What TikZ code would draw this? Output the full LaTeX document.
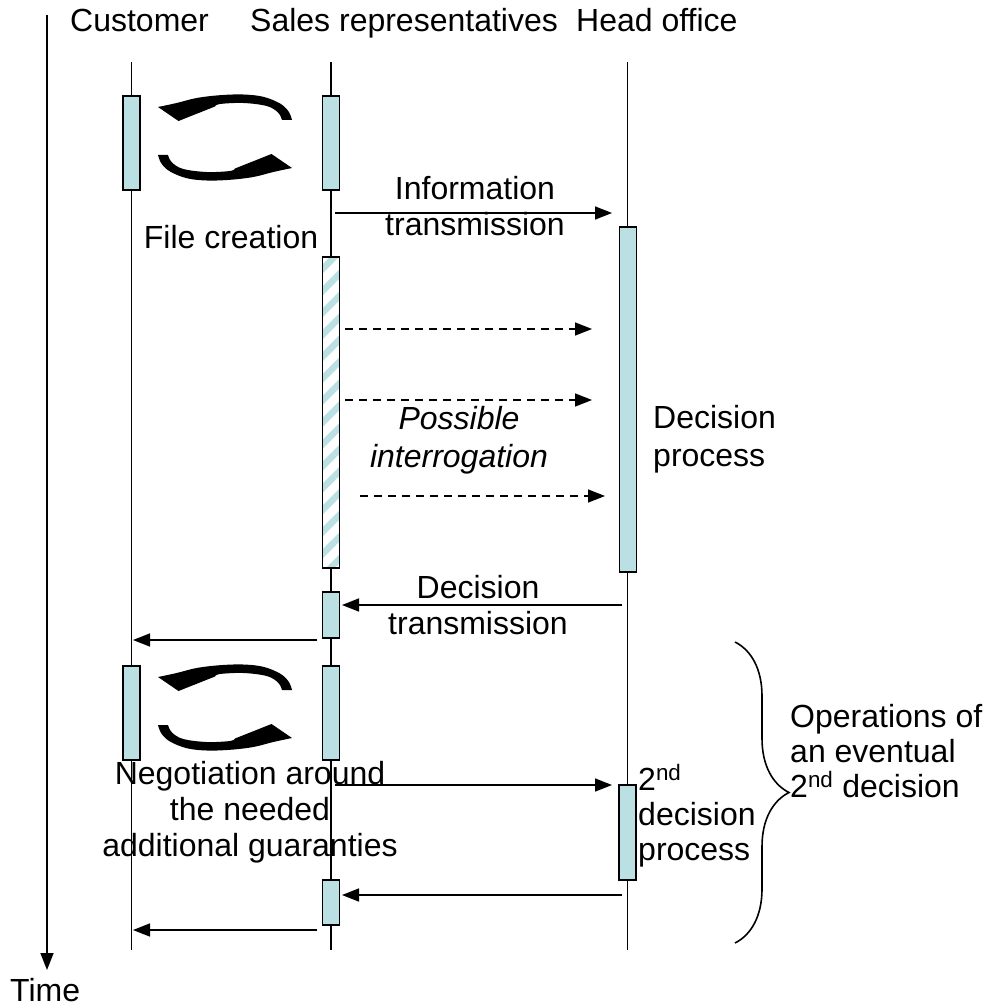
\documentclass[tikz,border=0pt]{standalone}
\usepackage{fontspec}
\setmainfont{Liberation Sans}
\usetikzlibrary{arrows.meta,patterns.meta,decorations.pathreplacing}
\definecolor{barcyan}{RGB}{187,224,227}
\newcommand\swaparc{plot[smooth,tension=0.6] coordinates {(-67,-30.5) (-48.3,-34.5)
    (-28.3,-39.5) (-5,-42.3) (18.3,-43) (38.3,-40.7) (55,-34) (63.6,-26) (67,-17.5)}
  -- plot[smooth,tension=0.6] coordinates {(57,-17.5) (53,-25) (41.7,-31.5)
    (18.3,-34.5) (-5,-33.5) (-10,-31)}
  -- (-46.5,-16.5) -- cycle}
\tikzset{
  lifeline/.style={line width=1.6pt},
  bar/.style={draw,line width=1.8pt,fill=barcyan,minimum width=17pt,inner sep=0pt},
  hatchbar/.style={draw,line width=1.8pt,minimum width=17pt,inner sep=0pt,
    preaction={fill=white},
    pattern={Lines[angle=45,distance=15.5pt,line width=6.5pt]},pattern color=barcyan},
  msg/.style={line width=1.6pt,-{Triangle[length=17pt,width=13pt]}},
  ask/.style={msg,dash pattern=on 8pt off 6pt},
  txt/.style={font=\fontsize{32}{36}\selectfont,align=center,inner sep=0pt},
  exchange/.pic={
    \fill \swaparc;
    \fill[rotate=180] \swaparc;
  }
}
\begin{document}
\begin{tikzpicture}[x=1pt,y=-1pt]
  \useasboundingbox (0,0) rectangle (990,1008);
  % time axis
  \coordinate (t0) at (47,15);
  \coordinate (t1) at (47,970);
  \draw[msg] (t0) -- (t1);
  \node[txt,anchor=base west] (time) at (10,1001) {Time};
  % actors and lifelines
  \node[txt,anchor=base west] (cust) at (70,32) {Customer};
  \node[txt,anchor=base west] (sales) at (250,32) {Sales representatives};
  \node[txt,anchor=base west] (head) at (576,32) {Head office};
  \foreach \name/\x in {c/131.5,s/331,h/627.5}
    \draw[lifeline] (\x,62) coordinate (\name-top) -- (\x,950) coordinate (\name-bot);
  % activations
  \node[bar,minimum height=94pt] (c1) at (131.5,143) {};
  \node[bar,minimum height=94pt] (s1) at (331,143) {};
  \node[hatchbar,minimum height=311pt] (s2) at (331,412.5) {};
  \node[bar,minimum height=345pt] (h1) at (628,399.5) {};
  \node[bar,minimum height=46pt] (s3) at (331,615) {};
  \node[bar,minimum height=94pt] (c2) at (131.5,713) {};
  \node[bar,minimum height=94pt] (s4) at (331,713) {};
  \node[bar,minimum height=95pt] (h2) at (627.5,832.5) {};
  \node[bar,minimum height=45pt] (s5) at (331,902.5) {};
  \pic at (225,137.5) {exchange};
  \pic at (225,707.5) {exchange};
  % messages
  \coordinate (info-s) at (335,213);  \coordinate (info-h) at (612,213);
  \coordinate (ask1-s) at (345,329);  \coordinate (ask1-h) at (592,329);
  \coordinate (ask2-s) at (345,400);  \coordinate (ask2-h) at (592,400);
  \coordinate (ask3-s) at (360,496);  \coordinate (ask3-h) at (605,496);
  \coordinate (dec-h) at (622,605);   \coordinate (dec-s) at (342,605);
  \coordinate (back1-s) at (317,640); \coordinate (back1-c) at (133,640);
  \coordinate (neg-s) at (335,785);   \coordinate (neg-h) at (612,785);
  \coordinate (dec2-h) at (622,895);  \coordinate (dec2-s) at (342,895);
  \coordinate (back2-s) at (317,930); \coordinate (back2-c) at (133,930);
  \draw[msg] (info-s) -- (info-h);
  \draw[ask] (ask1-s) -- (ask1-h);
  \draw[ask] (ask2-s) -- (ask2-h);
  \draw[ask] (ask3-s) -- (ask3-h);
  \draw[msg] (dec-h) -- (dec-s);
  \draw[msg] (back1-s) -- (back1-c);
  \draw[msg] (neg-s) -- (neg-h);
  \draw[msg] (dec2-h) -- (dec2-s);
  \draw[msg] (back2-s) -- (back2-c);
  % captions (base = last line)
  \node[txt,anchor=base] (infotxt) at (475,236) {Information\\transmission};
  \node[txt,anchor=base] (filetxt) at (231,248) {File creation};
  \node[txt,anchor=base,font=\fontsize{32}{38}\selectfont\itshape] (asktxt) at (459,467) {Possible\\interrogation};
  \node[txt,anchor=base west,align=left,font=\fontsize{32}{38}\selectfont] (proctxt) at (653,466) {Decision\\process};
  \node[txt,anchor=base] (dectxt) at (478,634) {Decision\\transmission};
  \node[txt,anchor=base] (negtxt) at (250,856) {Negotiation around\\the needed\\additional guaranties};
  \node[txt,anchor=base west,align=left,font=\fontsize{32}{35}\selectfont] (proc2txt) at (638,860) {2\textsuperscript{nd}\\decision\\process};
  \draw[decorate,decoration={brace,amplitude=54pt},line width=1.6pt] (735,642) -- (735,943);
  \node[txt,anchor=base west,align=left,font=\fontsize{32}{35}\selectfont] (optxt) at (790,797) {Operations of\\an eventual\\2\textsuperscript{nd} decision};
\end{tikzpicture}
\end{document}
